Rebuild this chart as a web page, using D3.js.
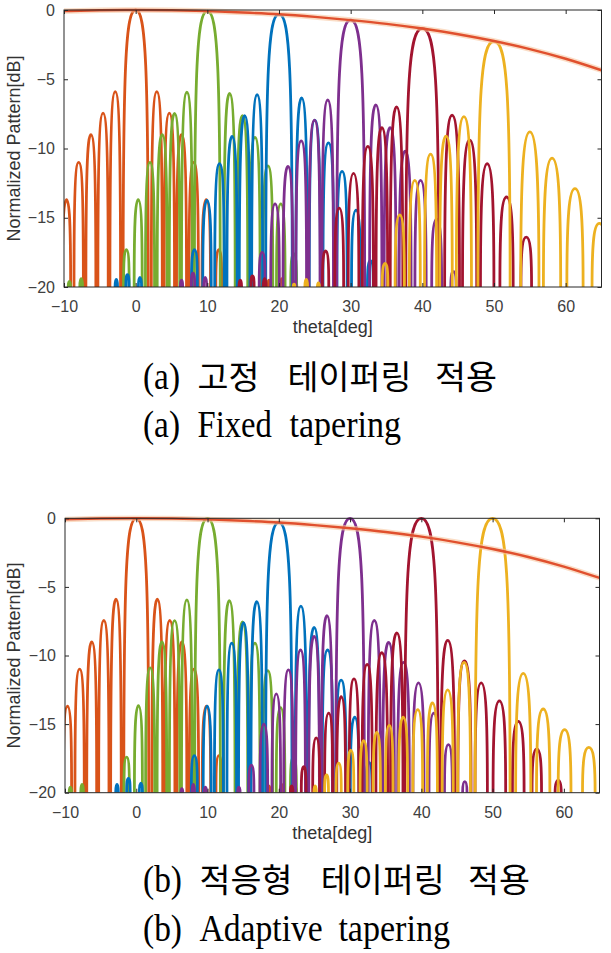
<!DOCTYPE html>
<html>
<head>
<meta charset="utf-8">
<script src="https://cdn.jsdelivr.net/npm/d3@7"></script>
<style>
  body { margin: 0; background: #fff; }
  svg { display: block; }
  .tick text { font-family: "Liberation Sans", Arial, sans-serif; font-size: 16px; fill: #404040; }
  .tick line { stroke: #262626; }
</style>
</head>
<body>
<script>
// beam steering angles (deg) and axis ticks
const beamAngles = [0, 10, 20, 30, 40, 50];
const xTicks = [-10, 0, 10, 20, 30, 40, 50, 60];
const yTicks = [-20, -15, -10, -5, 0];

// element pattern envelope
const envTheta = [-10, -5, 0, 5, 10, 15, 20, 25, 30, 35, 40, 45, 50, 55, 60, 65];
const envGain  = [-0.08, -0.02, 0, -0.02, -0.08, -0.18, -0.31, -0.5, -0.73, -1.0, -1.34, -1.75, -2.24, -2.82, -3.52, -4.35];

// main lobe peaks [dB] and half width at the -20 dB floor [deg]
const mainPeakFixed    = [0, -0.08, -0.3, -0.72, -1.33, -2.26];
const mainWidthFixed   = [1.75, 1.8, 1.85, 1.95, 2.3, 2.25];
const mainPeakAdaptive = [0, 0, -0.3, 0, 0, 0];
const mainWidthAdaptive = [1.75, 1.8, 1.85, 2.0, 2.35, 2.45];

// side lobes [theta, dB] - (a) fixed tapering
const fixed0  = [[-9.65,-13.7],[-7.95,-11.0],[-6.25,-9.0],[-4.55,-7.45],[-2.85,-5.9],[2.95,-5.9],[4.7,-7.45],[6.4,-9.0],[8.1,-11.0],[9.85,-13.7],[11.6,-17.3],[18.6,-19.5],[20.4,-19.4],[22.3,-19.6]];
const fixed10 = [[-9.25,-19.6],[-7.6,-19.4],[-1.3,-17.3],[0.35,-13.7],[2.0,-11.0],[3.7,-9.0],[5.42,-7.47],[7.15,-5.94],[13.1,-6.03],[14.9,-7.62],[16.65,-9.2],[18.45,-11.25],[20.25,-14.0],[22.05,-17.6]];
const fixed20 = [[-2.7,-19.45],[-1.15,-19.1],[0.6,-19.3],[8.2,-17.3],[9.95,-13.75],[11.7,-11.1],[13.45,-9.13],[15.2,-7.62],[16.95,-6.12],[23.15,-6.35],[25.0,-7.95],[26.9,-9.6],[28.8,-11.65],[30.75,-14.45],[32.75,-18.1]];
const fixed30 = [[6.4,-19.5],[8.0,-19.0],[9.7,-19.3],[17.65,-17.5],[19.45,-14.0],[21.25,-11.3],[23.1,-9.45],[24.95,-7.95],[26.8,-6.5],[33.5,-6.85],[35.5,-8.5],[37.6,-10.2],[39.75,-12.3],[42.0,-15.1],[44.35,-18.9]];
const fixed40 = [[14.6,-19.5],[16.3,-19.2],[18.0,-19.4],[26.5,-17.4],[28.4,-14.3],[30.4,-11.8],[32.4,-9.85],[34.35,-8.5],[36.4,-7.0],[44.15,-7.6],[46.6,-9.4],[49.05,-11.1],[51.75,-13.5],[54.5,-16.4]];
const fixed50 = [[22.1,-19.8],[23.8,-19.45],[25.5,-19.7],[34.8,-18.3],[36.85,-14.8],[38.95,-12.3],[41.15,-10.4],[43.3,-9.1],[45.8,-7.7],[55.0,-8.8],[58.1,-10.7],[61.3,-12.9],[64.7,-15.4]];

// side lobes [theta, dB] - (b) adaptive tapering
const adaptive0  = [[-9.65,-13.7],[-7.95,-11.0],[-6.25,-9.0],[-4.55,-7.45],[-2.85,-5.9],[2.95,-5.9],[4.7,-7.45],[6.4,-9.0],[8.1,-11.0],[9.85,-13.7],[11.6,-17.3],[18.6,-19.5],[20.4,-19.4],[22.3,-19.6]];
const adaptive10 = [[-9.25,-19.6],[-7.6,-19.4],[-1.35,-17.4],[0.3,-13.65],[1.95,-10.9],[3.6,-9.0],[5.38,-7.46],[7.1,-5.95],[13.05,-6.0],[14.9,-7.55],[16.65,-9.1],[18.45,-11.1],[20.25,-13.8],[22.05,-17.4]];
const adaptive20 = [[-2.7,-19.4],[-1.1,-18.95],[0.65,-19.3],[8.15,-17.3],[9.95,-13.7],[11.6,-11.05],[13.4,-9.1],[15.05,-7.6],[16.9,-6.08],[23.1,-6.4],[24.95,-7.95],[26.85,-9.6],[28.75,-11.8],[30.65,-14.5],[32.65,-17.8]];
const adaptive30 = [[6.4,-19.7],[8.0,-19.4],[9.7,-19.6],[14.4,-19.6],[16.15,-18.0],[17.9,-15.0],[19.65,-12.8],[21.35,-11.05],[23.05,-9.6],[24.95,-8.6],[26.75,-7.1],[33.4,-7.45],[35.4,-9.05],[37.5,-10.5],[39.6,-12.0],[41.75,-14.2],[43.8,-16.5],[46.1,-19.2]];
const adaptive40 = [[21.8,-19.5],[23.5,-18.1],[25.25,-16.0],[27.0,-14.2],[28.75,-13.0],[30.55,-11.7],[32.4,-10.65],[34.45,-9.8],[36.55,-8.35],[43.7,-8.9],[46.05,-10.4],[48.4,-12.0],[50.95,-13.3],[53.6,-14.8],[56.2,-16.8],[59.2,-19.1]];
const adaptive50 = [[25.1,-19.5],[26.7,-18.7],[28.4,-17.85],[30.1,-16.9],[31.9,-16.2],[33.75,-15.6],[35.5,-15.1],[37.45,-14.5],[39.5,-13.95],[41.55,-13.45],[43.7,-12.5],[46.0,-10.5],[54.3,-11.3],[57.1,-13.9],[60.1,-15.4],[63.5,-16.7]];

const sidelobesFixed = [fixed0, fixed10, fixed20, fixed30, fixed40, fixed50];
const sidelobesAdaptive = [adaptive0, adaptive10, adaptive20, adaptive30, adaptive40, adaptive50];

const beamColors = ["#D95319", "#77AC30", "#0072BD", "#7E2F8E", "#A2142F", "#EDB120"];
const floorDb = -20;

let svg = d3.select("body").append("svg")
    .attr("width", 611)
    .attr("height", 953);

drawPanel({ id: "a", left: 64, top: 10, width: 537.5, height: 277,
            peaks: mainPeakFixed, widths: mainWidthFixed, lobes: sidelobesFixed });
drawPanel({ id: "b", left: 65, top: 518.3, width: 534.5, height: 274.4,
            peaks: mainPeakAdaptive, widths: mainWidthAdaptive, lobes: sidelobesAdaptive });

// captions: [text, x, font, width]
caption(389, [["(a)", 143, "serif", 37], ["고정", 197.6, "kr", 62], ["테이퍼링", 287.6, "kr", 124], ["적용", 435, "kr", 62]]);
caption(436.5, [["(a)", 143, "serif", 37], ["Fixed", 197.6, "serif", 74.3], ["tapering", 289.5, "serif", 111.5]]);
caption(892, [["(b)", 143, "serif", 39], ["적응형", 199.5, "kr", 93], ["테이퍼링", 320.8, "kr", 124], ["적용", 468, "kr", 62]]);
caption(940.5, [["(b)", 143, "serif", 39], ["Adaptive", 199.5, "serif", 123.3], ["tapering", 338.4, "serif", 111.6]]);

function caption(baseline, words) {
    svg.append("g").selectAll("text")
        .data(words)
        .enter()
        .append("text")
        .attr("x", function(d) { return d[1]; })
        .attr("y", baseline)
        .attr("font-family", function(d) {
            return d[2] === "kr" ? "'Noto Sans CJK KR', sans-serif" : "'Liberation Serif', 'Times New Roman', serif";
        })
        .attr("font-size", function(d) { return d[2] === "kr" ? 33 : 37; })
        .attr("textLength", function(d) { return d[3]; })
        .attr("lengthAdjust", "spacingAndGlyphs")
        .attr("fill", "#000")
        .text(function(d) { return d[0]; });
}

function drawPanel(cfg) {
    const w = cfg.width, h = cfg.height;
    const x = d3.scaleLinear().domain([-10, 65]).range([0, w]);
    const y = d3.scaleLinear().domain([floorDb, 0]).range([h, 0]);

    let g = svg.append("g").attr("transform", `translate(${cfg.left},${cfg.top})`);

    g.append("clipPath").attr("id", "clip-" + cfg.id)
      .append("rect")
        .attr("x", 0).attr("y", -3)
        .attr("width", w).attr("height", h + 3);

    // one rounded arch per lobe, from the floor up to the peak
    // k sets how square the shoulders are (0.55 = ellipse)
    function addArch(p, a, b, t, level, k) {
        const x0 = x(a), x1 = x(b), xp = x(t), yp = y(level), yf = y(floorDb);
        p.moveTo(x0, yf);
        p.bezierCurveTo(x0, yf - k * (yf - yp), xp - k * (xp - x0), yp, xp, yp);
        p.bezierCurveTo(xp + k * (x1 - xp), yp, x1, yf - k * (yf - yp), x1, yf);
    }

    function beamPath(i) {
        let p = d3.path();
        const lobes = cfg.lobes[i];
        lobes.forEach(function(lobe) {
            let spacing = Infinity;
            lobes.forEach(function(o) {
                if (o !== lobe) spacing = Math.min(spacing, Math.abs(o[0] - lobe[0]));
            });
            const depth = Math.min(1, Math.pow(10, (floorDb - lobe[1]) / 20));
            const hw = 0.5 * spacing * (1 - 2 * Math.asin(depth) / Math.PI);
            addArch(p, lobe[0] - hw, lobe[0] + hw, lobe[0], lobe[1], 0.72);
        });
        const c = beamAngles[i], hw = cfg.widths[i];
        addArch(p, c - hw, c + hw, c, cfg.peaks[i], 0.8);
        return p.toString();
    }

    let plot = g.append("g").attr("clip-path", `url(#clip-${cfg.id})`);

    plot.selectAll(".beam")
        .data(beamAngles)
        .enter()
        .append("path")
        .attr("class", "beam")
        .attr("d", function(d, i) { return beamPath(i); })
        .attr("fill", "none")
        .attr("stroke", function(d, i) { return beamColors[i]; })
        .attr("stroke-width", 2.8)
        .attr("stroke-linejoin", "round");

    const env = d3.line()
        .x(function(d, i) { return x(envTheta[i]); })
        .y(function(d) { return y(d); })
        .curve(d3.curveMonotoneX);

    plot.append("path")
        .attr("d", env(envGain))
        .attr("fill", "none")
        .attr("stroke", "#F7C6A0")
        .attr("stroke-opacity", 0.6)
        .attr("stroke-width", 5.5);
    plot.append("path")
        .attr("d", env(envGain))
        .attr("fill", "none")
        .attr("stroke", "#E0502E")
        .attr("stroke-width", 2.4);

    // axes: ticks inside on all four sides
    g.append("g").attr("transform", `translate(0,${h})`)
        .call(d3.axisBottom(x).tickValues(xTicks).tickSize(-4).tickPadding(13.5))
        .call(function(a) { a.select(".domain").remove(); });
    g.append("g")
        .call(d3.axisTop(x).tickValues(xTicks).tickSize(-4).tickFormat(""))
        .call(function(a) { a.select(".domain").remove(); });
    g.append("g")
        .call(d3.axisLeft(y).tickValues(yTicks).tickSize(-4).tickPadding(9))
        .call(function(a) { a.select(".domain").remove(); });
    g.append("g").attr("transform", `translate(${w},0)`)
        .call(d3.axisRight(y).tickValues(yTicks).tickSize(-4).tickFormat(""))
        .call(function(a) { a.select(".domain").remove(); });

    g.append("rect")
        .attr("width", w).attr("height", h)
        .attr("fill", "none")
        .attr("stroke", "#262626")
        .attr("stroke-width", 1);

    g.append("text")
        .attr("x", w / 2)
        .attr("y", h + 46)
        .attr("text-anchor", "middle")
        .attr("font-family", "'Liberation Sans', Arial, sans-serif")
        .attr("font-size", 18)
        .attr("fill", "#333")
        .text("theta[deg]");

    svg.append("text")
        .attr("transform", `translate(19.5,${cfg.top + h / 2}) rotate(-90)`)
        .attr("text-anchor", "middle")
        .attr("font-family", "'Liberation Sans', Arial, sans-serif")
        .attr("font-size", 18)
        .attr("fill", "#333")
        .text("Normalized Pattern[dB]");
}
</script>
</body>
</html>
